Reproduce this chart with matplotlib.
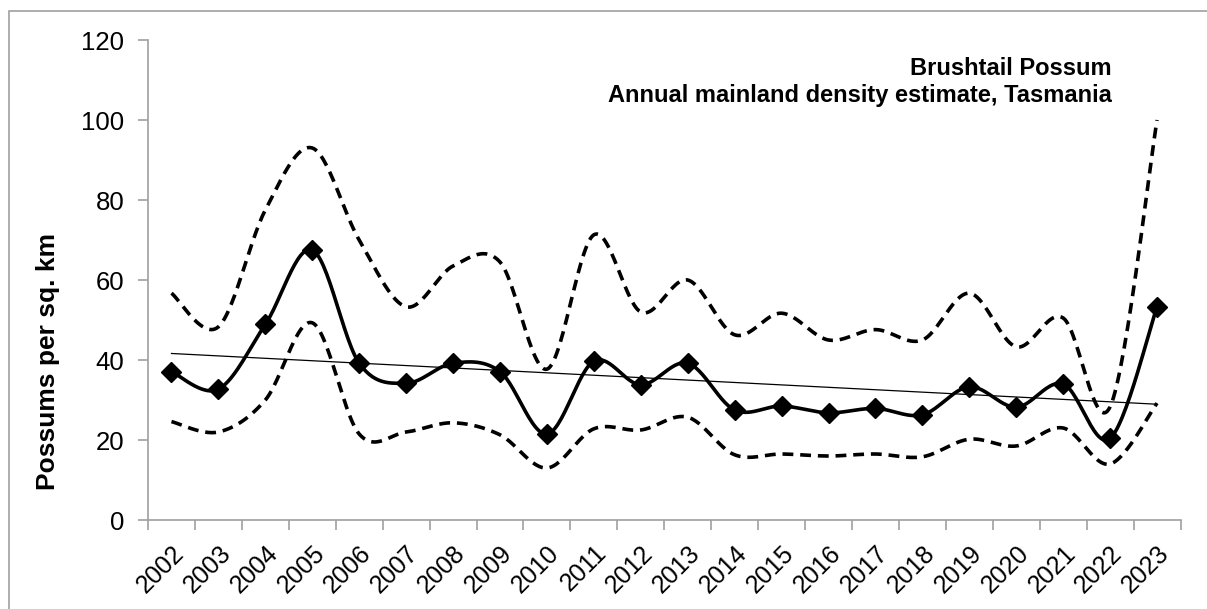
import numpy as np
import matplotlib
matplotlib.use("Agg")
import matplotlib.pyplot as plt
from matplotlib.patches import Rectangle

plt.rcParams['font.family'] = ['Liberation Sans', 'DejaVu Sans']

years = [str(y) for y in range(2002, 2024)]
density = [37.1, 32.7, 48.9, 67.5, 39.2, 34.2, 39.2, 37.1, 21.5, 39.7, 33.8,
           39.2, 27.5, 28.5, 26.8, 27.9, 26.3, 33.3, 28.2, 34.0, 20.4, 53.3]
upper_ci = [56.7, 48.3, 77.5, 93.0, 70.0, 53.3, 63.5, 64.5, 37.7, 71.3, 52.0,
            60.0, 46.3, 51.7, 45.0, 47.6, 45.0, 56.7, 43.3, 50.5, 28.3, 100.0]
lower_ci = [24.6, 22.0, 30.0, 49.3, 21.5, 22.0, 24.3, 21.3, 13.0, 22.8, 22.5,
            25.7, 16.3, 16.5, 16.0, 16.5, 15.8, 20.2, 18.5, 23.0, 14.0, 29.2]

title_lines = "Brushtail Possum\nAnnual mainland density estimate, Tasmania"
ylabel = "Possums per sq. km"


def smooth_curve(xs, ys, steps=30):
    """Cubic Bezier smoothing through every point (Catmull-Rom style)."""
    P = np.column_stack([xs, ys]).astype(float)
    n = len(P)
    out = []
    t = np.linspace(0, 1, steps)[:, None]
    for i in range(n - 1):
        p_prev = P[i - 1] if i > 0 else P[i]
        p_next = P[i + 2] if i + 2 < n else P[i + 1]
        b0 = P[i]
        b3 = P[i + 1]
        b1 = b0 + (b3 - p_prev) / 6.0
        b2 = b3 - (p_next - b0) / 6.0
        seg = ((1 - t) ** 3) * b0 + 3 * ((1 - t) ** 2) * t * b1 \
            + 3 * (1 - t) * t ** 2 * b2 + t ** 3 * b3
        out.append(seg if i == 0 else seg[1:])
    c = np.vstack(out)
    return c[:, 0], c[:, 1]


fig = plt.figure(figsize=(12.07, 6.09), dpi=100)
ax = fig.add_axes([148 / 1207, 1 - 520 / 609, (1180.5 - 148) / 1207, 480 / 609])

x = np.arange(len(years))
grey = '#a0a0a0'

for series in (upper_ci, lower_ci):
    sx, sy = smooth_curve(x, series)
    ax.plot(sx, sy, color='black', lw=2.6, dashes=(3.0, 1.9),
            dash_capstyle='butt', zorder=3)

mx, my = smooth_curve(x, density)
ax.plot(mx, my, color='black', lw=2.6, zorder=4)
ax.plot(x, density, linestyle='none', marker='D', markersize=10.5,
        color='black', zorder=5)

# Linear trend of the annual estimates
coef = np.polyfit(x, density, 1)
ax.plot([x[0], x[-1]], np.polyval(coef, [x[0], x[-1]]), color='black', lw=0.9, zorder=4)

ax.set_xlim(-0.5, len(years) - 0.5)
ax.set_ylim(0, 120)
ax.set_yticks(np.arange(0, 121, 20))
ax.set_xticks(np.arange(-0.5, len(years), 1.0))
ax.set_xticklabels([])
ax.set_xticks(x, minor=True)
ax.set_xticklabels(years, minor=True, rotation=45, ha='right', va='top',
                   rotation_mode='anchor', fontsize=18)
ax.tick_params(axis='x', which='minor', length=0, pad=15)
ax.tick_params(axis='x', which='major', length=7, width=1.2, color=grey, direction='out')
ax.tick_params(axis='y', length=7, width=1.2, color=grey, direction='out',
               labelsize=18.5, pad=10)

for s in ('top', 'right'):
    ax.spines[s].set_visible(False)
for s in ('left', 'bottom'):
    ax.spines[s].set_color(grey)
    ax.spines[s].set_linewidth(1.2)

fig.text(48 / 1207, 1 - 362 / 609, ylabel, rotation=90, ha='center', va='center',
         fontsize=19, fontweight='bold')

fig.text(1112 / 1207, 1 - 102 / 609, title_lines,
         ha='right', va='baseline', fontsize=17, fontweight='bold',
         linespacing=1.2)

fig.patches.append(Rectangle((9 / 1207, -0.05), 1.1, 1 - 11 / 609 + 0.05,
                             transform=fig.transFigure, fill=False,
                             edgecolor=grey, lw=1.2, zorder=0))

fig.savefig("out.png", dpi=100)
